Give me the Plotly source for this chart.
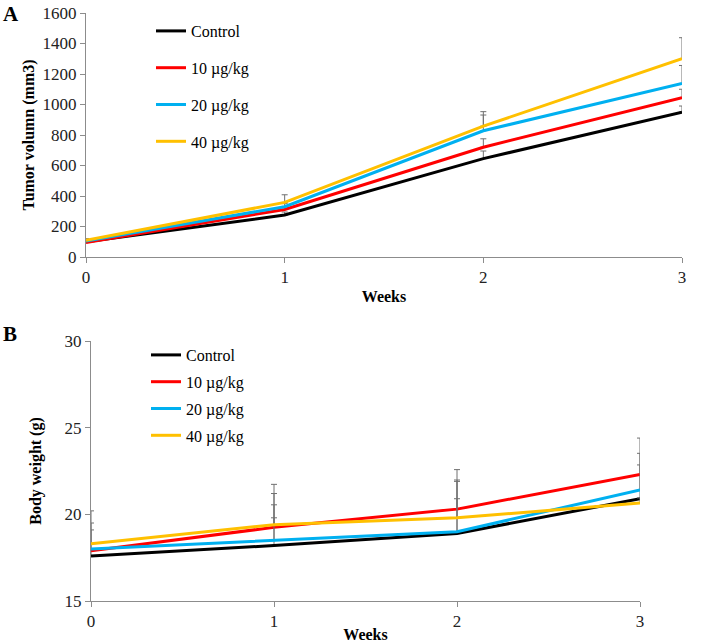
import plotly.graph_objects as go

weeks = [0, 1, 2, 3]
series_names = ["Control", "10 µg/kg", "20 µg/kg", "40 µg/kg"]
colors = ["#000000", "#FF0000", "#00B0F0", "#FFC000"]

# Panel A: tumor volume (mm3)
tumor_control = [100, 275, 645, 950]
tumor_10 = [95, 312, 720, 1045]
tumor_20 = [105, 330, 828, 1138]
tumor_40 = [110, 358, 858, 1300]
tumor_err_control = [10, 20, 50, 40]
tumor_err_10 = [10, 20, 55, 55]
tumor_err_20 = [10, 20, 103, 118]
tumor_err_40 = [10, 50, 95, 138]

# Panel B: body weight (g)
bw_control = [17.6, 18.2, 18.9, 20.9]
bw_10 = [17.9, 19.25, 20.3, 22.3]
bw_20 = [18.0, 18.5, 19.0, 21.4]
bw_40 = [18.3, 19.4, 19.8, 20.65]
bw_err_control = [0.3, 1.6, 2.0, 1.95]
bw_err_10 = [1.2, 1.95, 2.28, 2.1]
bw_err_20 = [1.5, 2.05, 2.9, 2.12]
bw_err_40 = [1.9, 2.33, 2.18, 0.3]

FONT = "Liberation Serif"
AXC = "#8c8c8c"
ERRC = "#707070"

tumor = [tumor_control, tumor_10, tumor_20, tumor_40]
tumor_err = [tumor_err_control, tumor_err_10, tumor_err_20, tumor_err_40]
bw = [bw_control, bw_10, bw_20, bw_40]
bw_err = [bw_err_control, bw_err_10, bw_err_20, bw_err_40]

fig = go.Figure()
for name, col, ys, es in zip(series_names, colors, tumor, tumor_err):
    fig.add_trace(go.Scatter(
        x=weeks, y=ys, mode="lines", name=name, line=dict(color=col, width=3),
        error_y=dict(type="data", array=es, arrayminus=[0] * 4, symmetric=False,
                     color=ERRC, thickness=1, width=3),
        xaxis="x", yaxis="y", legend="legend", legendgroup="a" + name))
for name, col, ys, es in zip(series_names, colors, bw, bw_err):
    fig.add_trace(go.Scatter(
        x=weeks, y=ys, mode="lines", name=name, line=dict(color=col, width=3),
        error_y=dict(type="data", array=es, arrayminus=[0] * 4, symmetric=False,
                     color=ERRC, thickness=1, width=3),
        xaxis="x2", yaxis="y2", legend="legend2", legendgroup="b" + name))

W, H = 708, 643
def px_x(p):
    return p / W
def px_y(p):
    return 1 - p / H

axis_common = dict(showgrid=False, zeroline=False, showline=True, linecolor=AXC, linewidth=1,
                   ticks="outside", tickcolor=AXC, ticklen=5, tickwidth=1, automargin=False,
                   tickfont=dict(family=FONT, size=17, color="#222"))

fig.update_layout(
    width=W, height=H, margin=dict(l=0, r=0, t=0, b=0),
    paper_bgcolor="white", plot_bgcolor="white",
    font=dict(family=FONT, color="#000"),
    xaxis=dict(domain=[px_x(86), px_x(682)], range=[0, 3], tickvals=weeks, anchor="y",
               title=dict(text="<b>Weeks</b>", font=dict(family=FONT, size=16), standoff=4),
               **axis_common),
    yaxis=dict(domain=[px_y(257), px_y(13)], range=[0, 1600], dtick=200, anchor="x",
               title=dict(text="<b>Tumor volumn (mm3)</b>", font=dict(family=FONT, size=16), standoff=3),
               **axis_common),
    xaxis2=dict(domain=[px_x(91), px_x(640)], range=[0, 3], tickvals=weeks, anchor="y2",
                title=dict(text="<b>Weeks</b>", font=dict(family=FONT, size=16), standoff=2),
                **axis_common),
    yaxis2=dict(domain=[px_y(601), px_y(341)], range=[15, 30], dtick=5, anchor="x2",
                title=dict(text="<b>Body weight (g)</b>", font=dict(family=FONT, size=16), standoff=18),
                **axis_common),
    legend=dict(x=px_x(151), y=px_y(14), xanchor="left", yanchor="top",
                font=dict(family=FONT, size=16), tracegroupgap=13, bgcolor="rgba(0,0,0,0)"),
    legend2=dict(x=px_x(146), y=px_y(338), xanchor="left", yanchor="top",
                 font=dict(family=FONT, size=16), tracegroupgap=3, bgcolor="rgba(0,0,0,0)"),
    showlegend=True,
)

# panel labels
fig.add_annotation(text="<b>A</b>", x=px_x(1), y=px_y(0), xref="paper", yref="paper",
                   xanchor="left", yanchor="top", showarrow=False,
                   font=dict(family=FONT, size=21))
fig.add_annotation(text="<b>B</b>", x=px_x(1), y=px_y(320), xref="paper", yref="paper",
                   xanchor="left", yanchor="top", showarrow=False,
                   font=dict(family=FONT, size=21))

# significance bracket between Control and 40 µg/kg at week 3
y_lo = tumor_control[-1]
y_hi = tumor_40[-1] + 30
fig.add_shape(type="path", xref="x", yref="y",
              path=f"M 3.035,{y_hi} L 3.075,{y_hi} L 3.075,{y_lo} L 3.035,{y_lo}",
              line=dict(color="#555", width=1.5))
fig.add_annotation(text="*", x=3.1, y=(y_lo + y_hi) / 2, xref="x", yref="y",
                   showarrow=False, xanchor="left", font=dict(family=FONT, size=16, color="#555"))

fig.write_html("out.html", config={"displayModeBar": False},
               post_script="document.body.style.margin='0';document.body.style.overflow='hidden';")
